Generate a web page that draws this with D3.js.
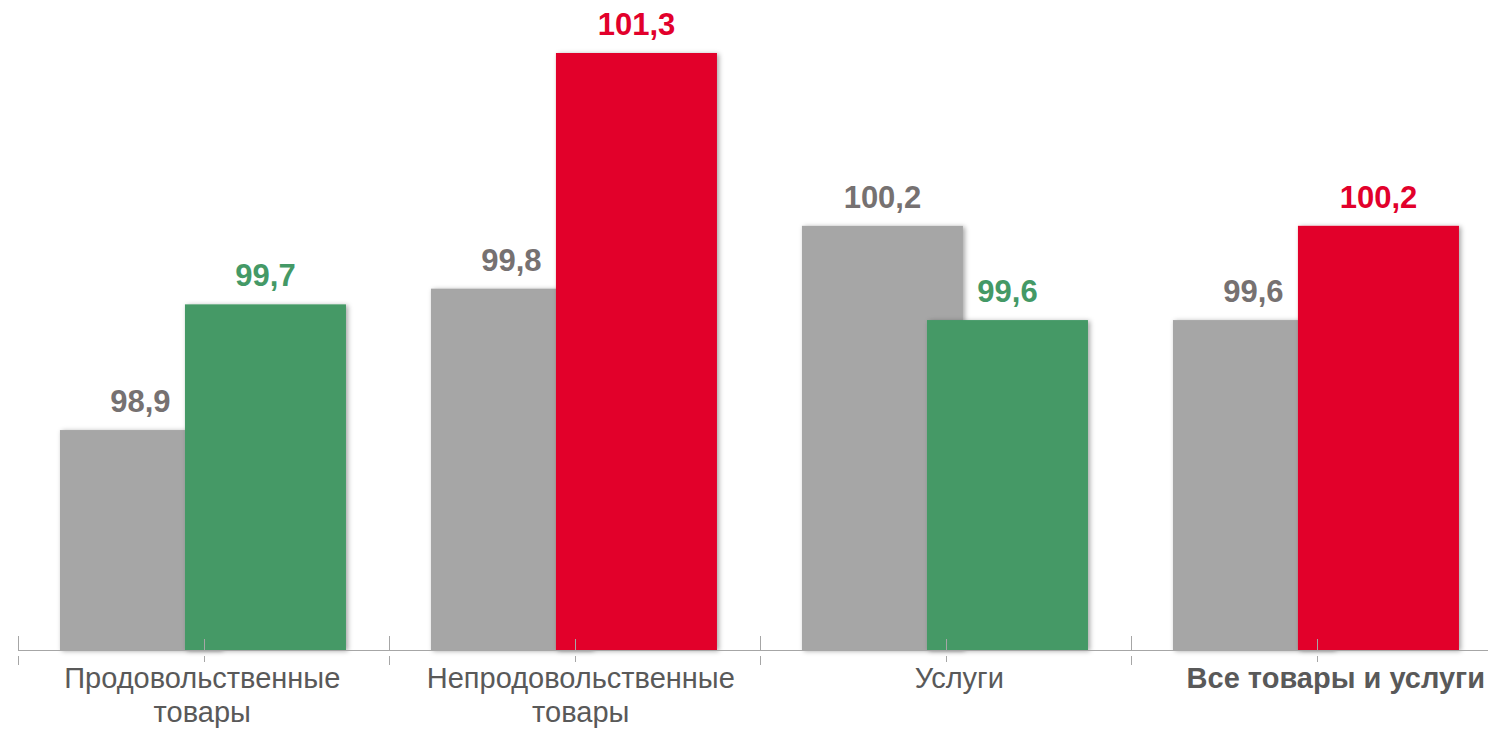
<!DOCTYPE html>
<html>
<head>
<meta charset="utf-8">
<script src="https://cdn.jsdelivr.net/npm/d3@7"></script>
<style>
  html, body { margin: 0; padding: 0; background: #fff; }
  svg { display: block; font-family: Arial, "Liberation Sans", sans-serif; }
</style>
</head>
<body>
<svg id="chart" width="1488" height="730"></svg>
<script>
// categories and two index series (previous / current period)
var categories = ["Продовольственные товары", "Непродовольственные товары", "Услуги", "Все товары и услуги"];
var labelLines = [["Продовольственные", "товары"], ["Непродовольственные", "товары"], ["Услуги"], ["Все товары и услуги"]];
var boldLabel = [false, false, false, true];
var prevValues = [98.9, 99.8, 100.2, 99.6];
var currValues = [99.7, 101.3, 99.6, 100.2];

var W = 1488, H = 730;
var baseY = 650;
var svg = d3.select("#chart");

// soft shadow round the bars
var defs = svg.append("defs");
var f = defs.append("filter").attr("id", "shadow")
  .attr("x", "-10%").attr("y", "-10%").attr("width", "120%").attr("height", "120%");
f.append("feDropShadow").attr("dx", 2).attr("dy", 1).attr("stdDeviation", 2.5)
  .attr("flood-color", "#000").attr("flood-opacity", 0.35);

var x = d3.scaleBand().domain(categories).range([18, 1502]).padding(0);
// the label boxes sit on a slightly wider grid than the ticks
var xLabel = d3.scaleBand().domain(categories).range([13, 1527]).padding(0);
var y = d3.scaleLinear().domain([97.5, 101.3]).range([baseY, 53]);

var bw = x.bandwidth();
var barW = bw * 0.434;     // each bar
var pad = bw * 0.113;      // space before first bar
var overlap = bw * 0.097;  // second bar sits over the first

var red = "#e2002b", green = "#449966", grey = "#a6a6a6";
function currColor(v) { return v > 100 ? red : green; }
function fmt(v) { return d3.format(".1f")(v).replace(".", ","); }

var data = categories.map(function (c, i) {
  return { cat: c, prev: prevValues[i], curr: currValues[i], lines: labelLines[i], bold: boldLabel[i] };
});

var g = svg.append("g");

// grey bars (previous)
g.selectAll("rect.prev").data(data).enter().append("rect")
  .attr("class", "prev")
  .attr("x", function (d) { return x(d.cat) + pad; })
  .attr("y", function (d) { return y(d.prev); })
  .attr("width", barW)
  .attr("height", function (d) { return baseY - y(d.prev); })
  .attr("fill", grey)
  .attr("filter", "url(#shadow)");

// coloured bars (current)
g.selectAll("rect.curr").data(data).enter().append("rect")
  .attr("class", "curr")
  .attr("x", function (d) { return x(d.cat) + pad + barW - overlap; })
  .attr("y", function (d) { return y(d.curr); })
  .attr("width", barW)
  .attr("height", function (d) { return baseY - y(d.curr); })
  .attr("fill", function (d) { return currColor(d.curr); })
  .attr("filter", "url(#shadow)");

// value labels
g.selectAll("text.vprev").data(data).enter().append("text")
  .attr("x", function (d) { return x(d.cat) + pad + barW / 2; })
  .attr("y", function (d) { return y(d.prev) - 18; })
  .attr("text-anchor", "middle")
  .style("font-size", "31px").style("font-weight", "bold")
  .attr("fill", "#767171")
  .text(function (d) { return fmt(d.prev); });

g.selectAll("text.vcurr").data(data).enter().append("text")
  .attr("x", function (d) { return x(d.cat) + pad + barW * 1.5 - overlap; })
  .attr("y", function (d) { return y(d.curr) - 18; })
  .attr("text-anchor", "middle")
  .style("font-size", "31px").style("font-weight", "bold")
  .attr("fill", function (d) { return currColor(d.curr); })
  .text(function (d) { return fmt(d.curr); });

// axis line and ticks
var axis = svg.append("g").attr("stroke", "#a6a6a6").attr("stroke-width", 1);
axis.append("line").attr("x1", 18).attr("x2", W).attr("y1", baseY + 0.5).attr("y2", baseY + 0.5);
categories.forEach(function (c) {
  var xb = Math.round(x(c)) + 0.5, xc = Math.round(x(c) + bw / 2) + 0.5;
  axis.append("line").attr("x1", xb).attr("x2", xb).attr("y1", 636).attr("y2", 651);
  axis.append("line").attr("x1", xb).attr("x2", xb).attr("y1", 656).attr("y2", 665);
  axis.append("line").attr("x1", xc).attr("x2", xc).attr("y1", 639).attr("y2", 651);
  axis.append("line").attr("x1", xc).attr("x2", xc).attr("y1", 656).attr("y2", 662);
});

// category labels
var labels = svg.selectAll("text.cat").data(data).enter().append("text")
  .attr("class", "cat")
  .attr("text-anchor", "middle")
  .attr("fill", "#595959")
  .style("font-size", "29px")
  .style("font-weight", function (d) { return d.bold ? "bold" : "normal"; });

labels.each(function (d) {
  var t = d3.select(this);
  d.lines.forEach(function (line, k) {
    t.append("tspan").attr("x", 0).attr("y", 688 + k * 34).text(line);
  });
  // keep the text inside the picture
  var w = this.getBBox().width;
  var cx = Math.min(xLabel(d.cat) + xLabel.bandwidth() / 2, W - 3 - w / 2);
  t.attr("transform", "translate(" + cx + ",0)");
});
</script>
</body>
</html>
